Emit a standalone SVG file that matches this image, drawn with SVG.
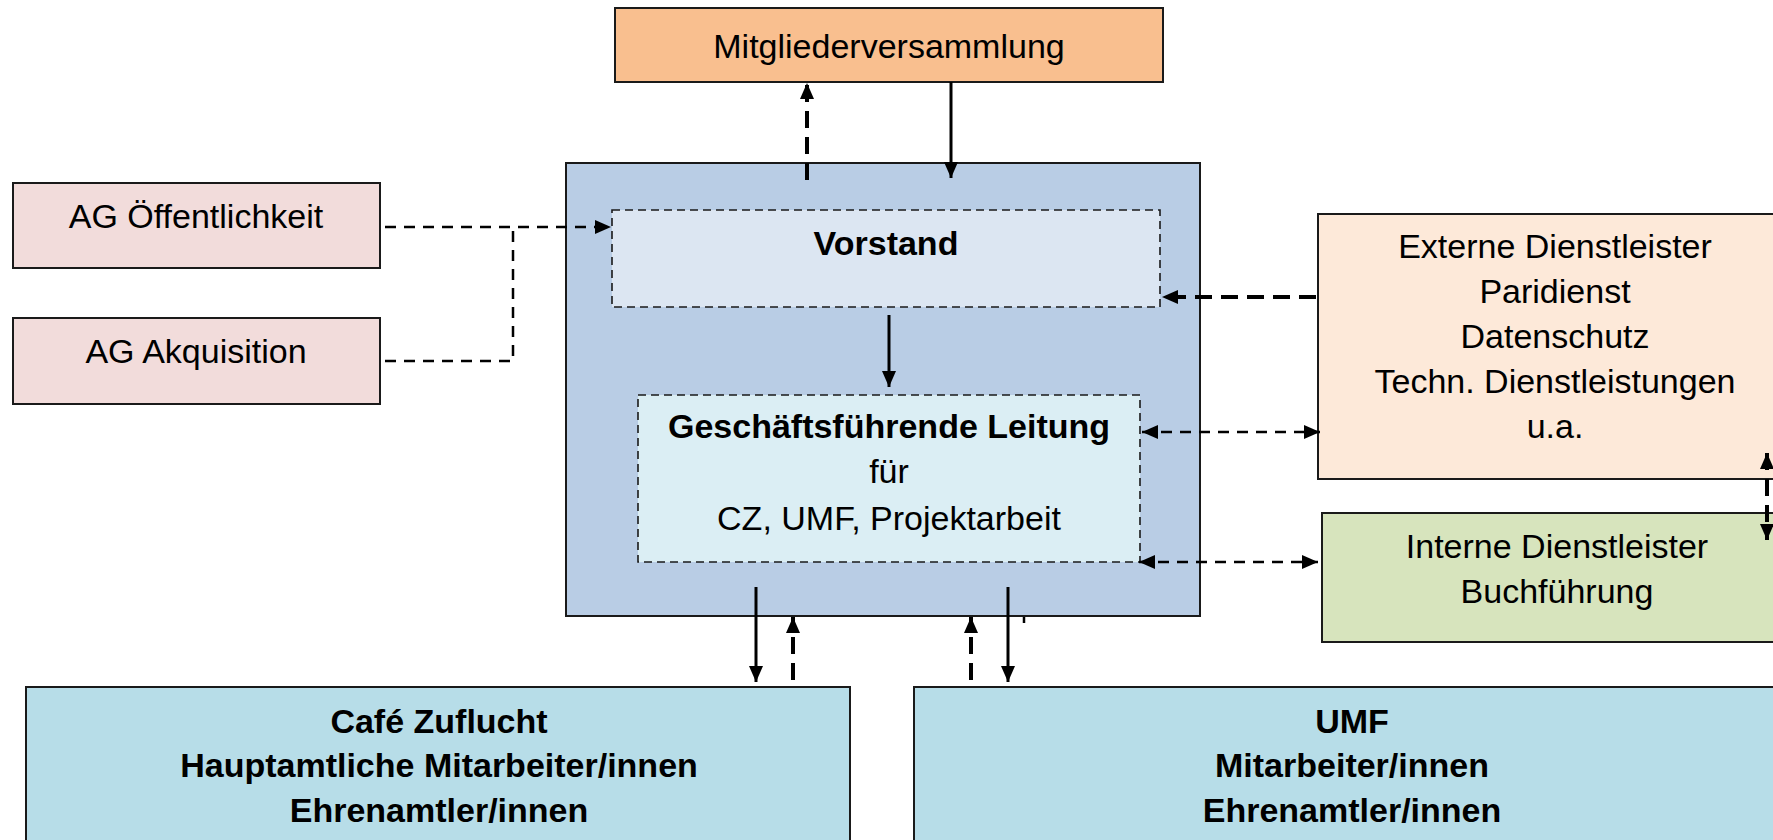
<svg xmlns="http://www.w3.org/2000/svg" width="1773" height="840" viewBox="0 0 1773 840">
<defs>
<style>
.box{stroke:#1a1a1a;stroke-width:2}
.dbox{stroke:#1a1a1a;stroke-width:1.6;stroke-dasharray:8 5}
.t{font-family:"Liberation Sans",Arial,sans-serif;font-size:34px;fill:#000;text-anchor:middle}
.b{font-weight:bold}
.solid{stroke:#000;stroke-width:3;fill:none}
.thin{stroke:#000;stroke-width:2.5;fill:none;stroke-dasharray:11 8}
.thick{stroke:#000;stroke-width:4;fill:none;stroke-dasharray:17 9}
</style>
<marker id="ah" viewBox="0 0 16 14" refX="16" refY="7" markerWidth="16" markerHeight="14" markerUnits="userSpaceOnUse" orient="auto-start-reverse">
<path d="M0,0 L16,7 L0,14 z" fill="#000"/>
</marker>
</defs>
<rect width="1773" height="840" fill="#fff"/>

<g id="mitgliederversammlung">
<rect class="box" x="615" y="8" width="548" height="74" fill="#F9BF8F"/>
<text class="t" x="889" y="58">Mitgliederversammlung</text>
</g>

<g id="container">
<rect class="box" x="566" y="163" width="634" height="453" fill="#B9CDE5"/>
</g>

<g id="vorstand">
<rect class="dbox" x="612" y="210" width="548" height="97" fill="#DCE6F2"/>
<text class="t b" x="886" y="255">Vorstand</text>
</g>

<g id="geschaeftsfuehrung">
<rect class="dbox" x="638" y="395" width="502" height="167" fill="#DBEEF4"/>
<text class="t b" x="889" y="438">Geschäftsführende Leitung</text>
<text class="t" x="889" y="483">für</text>
<text class="t" x="889" y="530">CZ, UMF, Projektarbeit</text>
</g>

<g id="ag-oeffentlichkeit">
<rect class="box" x="13" y="183" width="367" height="85" fill="#F2DCDB"/>
<text class="t" x="196" y="228">AG Öffentlichkeit</text>
</g>

<g id="ag-akquisition">
<rect class="box" x="13" y="318" width="367" height="86" fill="#F2DCDB"/>
<text class="t" x="196" y="363">AG Akquisition</text>
</g>

<g id="externe">
<rect class="box" x="1318" y="214" width="480" height="265" fill="#FDE9D9"/>
<text class="t" x="1555" y="258">Externe Dienstleister</text>
<text class="t" x="1555" y="303">Paridienst</text>
<text class="t" x="1555" y="348">Datenschutz</text>
<text class="t" x="1555" y="393">Techn. Dienstleistungen</text>
<text class="t" x="1555" y="438">u.a.</text>
</g>

<g id="interne">
<rect class="box" x="1322" y="513" width="480" height="129" fill="#D7E4BD"/>
<text class="t" x="1557" y="558">Interne Dienstleister</text>
<text class="t" x="1557" y="603">Buchführung</text>
</g>

<g id="cafe">
<rect class="box" x="26" y="687" width="824" height="170" fill="#B7DDE8"/>
<text class="t b" x="439" y="733">Café Zuflucht</text>
<text class="t b" x="439" y="777">Hauptamtliche Mitarbeiter/innen</text>
<text class="t b" x="439" y="822">Ehrenamtler/innen</text>
</g>

<g id="umf">
<rect class="box" x="914" y="687" width="880" height="170" fill="#B7DDE8"/>
<text class="t b" x="1352" y="733">UMF</text>
<text class="t b" x="1352" y="777">Mitarbeiter/innen</text>
<text class="t b" x="1352" y="822">Ehrenamtler/innen</text>
</g>

<g id="connectors">
<path class="thick" d="M807,180 V83" marker-end="url(#ah)"/>
<path class="solid" d="M951,82 V178" marker-end="url(#ah)"/>
<path class="thin" d="M385,227 H611" marker-end="url(#ah)"/>
<path class="thin" d="M385,361 H513 V227"/>
<path class="solid" d="M889,315 V387" marker-end="url(#ah)"/>
<path class="thick" d="M1316,297 H1162" marker-end="url(#ah)"/>
<path class="thin" d="M1142,432 H1320" marker-start="url(#ah)" marker-end="url(#ah)"/>
<path class="thin" d="M1139,562 H1318" marker-start="url(#ah)" marker-end="url(#ah)"/>
<path class="thick" d="M1767,453 V540" marker-start="url(#ah)" marker-end="url(#ah)"/>
<path class="solid" d="M756,587 V682" marker-end="url(#ah)"/>
<path class="thick" d="M793,680 V617" marker-end="url(#ah)"/>
<path class="thick" d="M971,680 V617" marker-end="url(#ah)"/>
<path class="solid" d="M1008,587 V682" marker-end="url(#ah)"/>
<path d="M1024,617 V623" stroke="#000" stroke-width="2.5"/>
</g>
</svg>
